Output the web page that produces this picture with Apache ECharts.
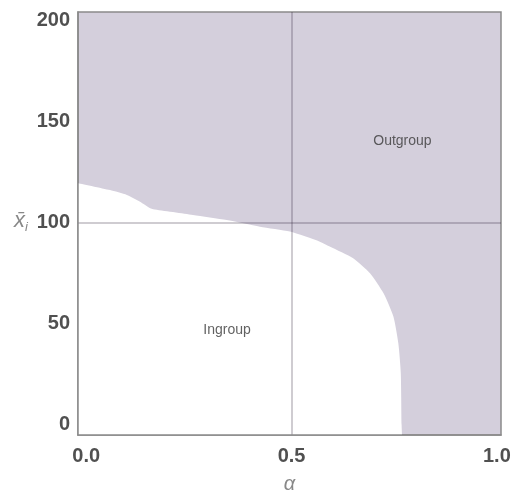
<!DOCTYPE html>
<html>
<head>
<meta charset="utf-8">
<script src="https://cdn.jsdelivr.net/npm/echarts@6/dist/echarts.min.js"></script>
<style>html,body{margin:0;padding:0;background:#fff}#c{width:514px;height:495px}</style>
</head>
<body>
<div id="c"></div>
<script>
// Boundary between Ingroup (below/left) and Outgroup (above/right)
const boundaryAlpha = [-0.02, 0.058, 0.099, 0.131, 0.156, 0.163, 0.26, 0.342, 0.423, 0.496, 0.569, 0.594, 0.65, 0.691, 0.724, 0.748, 0.76, 0.766, 0.768, 0.769];
const boundaryX    = [119.4, 116, 113.6, 110.3, 107, 106.5, 103.7, 101.2, 97.9, 95.5, 90.5, 88, 82.3, 74.9, 65, 53.5, 40.3, 25.5, 0, -5];
const xTicks = [0, 0.5, 1.0];
const yTicks = [0, 50, 100, 150, 200];
const dividerAlpha = 0.5;
const dividerX = 100;
const regionLabels = [
  {name: 'Outgroup', alpha: 0.77, x: 140},
  {name: 'Ingroup', alpha: 0.343, x: 47}
];

const chart = echarts.init(document.getElementById('c'), null, {renderer: 'canvas'});
const font = 'Liberation Sans, Arial, sans-serif';
chart.setOption({
  animation: false,
  grid: {left: 78, right: 13, top: 12, bottom: 60, show: true, outerBoundsMode: 'none', containLabel: false,
         backgroundColor: '#d4cfdc', borderColor: '#8a8a8a', borderWidth: 1.5},
  xAxis: {
    type: 'value', min: -0.02, max: 1.01, z: 5,
    axisLine: {show: true, onZero: false, lineStyle: {color: '#8a8a8a', width: 1.5}},
    axisTick: {show: false},
    splitLine: {show: false},
    axisLabel: {customValues: xTicks, formatter: v => v.toFixed(1), color: '#505050', fontSize: 20, fontWeight: 'bold', fontFamily: font, margin: 11},
    name: 'α', nameLocation: 'middle', nameGap: 39,
    nameTextStyle: {color: '#888', fontSize: 20, fontStyle: 'italic', fontFamily: font}
  },
  yAxis: {
    type: 'value', min: -5, max: 204, z: 5,
    axisLine: {show: true, onZero: false, lineStyle: {color: '#8a8a8a', width: 1.5}},
    axisTick: {show: false},
    splitLine: {show: false},
    axisLabel: {customValues: yTicks, color: '#505050', fontSize: 20, fontWeight: 'bold', fontFamily: font, margin: 8}
  },
  graphic: [{
    type: 'text', left: 14, top: 210, z: 10,
    style: {
      text: '{x|x̄}{i|i}',
      rich: {
        x: {fontSize: 22, fontStyle: 'italic', fill: '#888', fontFamily: font},
        i: {fontSize: 13, fontStyle: 'italic', fill: '#888', fontFamily: font, verticalAlign: 'bottom', padding: [12, 0, 0, 0]}
      }
    }
  }],
  series: [
    {
      type: 'line', z: 1,
      data: boundaryAlpha.map((a, k) => [a, boundaryX[k]]),
      symbol: 'none', smooth: 0.2,
      lineStyle: {width: 0},
      areaStyle: {color: '#ffffff', opacity: 1, origin: 'start'},
      silent: true
    },
    {
      type: 'scatter', z: 6, symbolSize: 0,
      data: regionLabels.map(r => ({value: [r.alpha, r.x], name: r.name})),
      label: {show: true, position: 'inside', formatter: p => p.name, color: '#3a3a3a', fontSize: 14, fontFamily: font},
      silent: true,
      markLine: {
        silent: true, symbol: 'none', animation: false,
        label: {show: false},
        lineStyle: {color: 'rgba(40,30,50,0.3)', width: 1.5, type: 'solid'},
        data: [{xAxis: dividerAlpha}, {yAxis: dividerX}]
      }
    }
  ]
});
</script>
</body>
</html>
